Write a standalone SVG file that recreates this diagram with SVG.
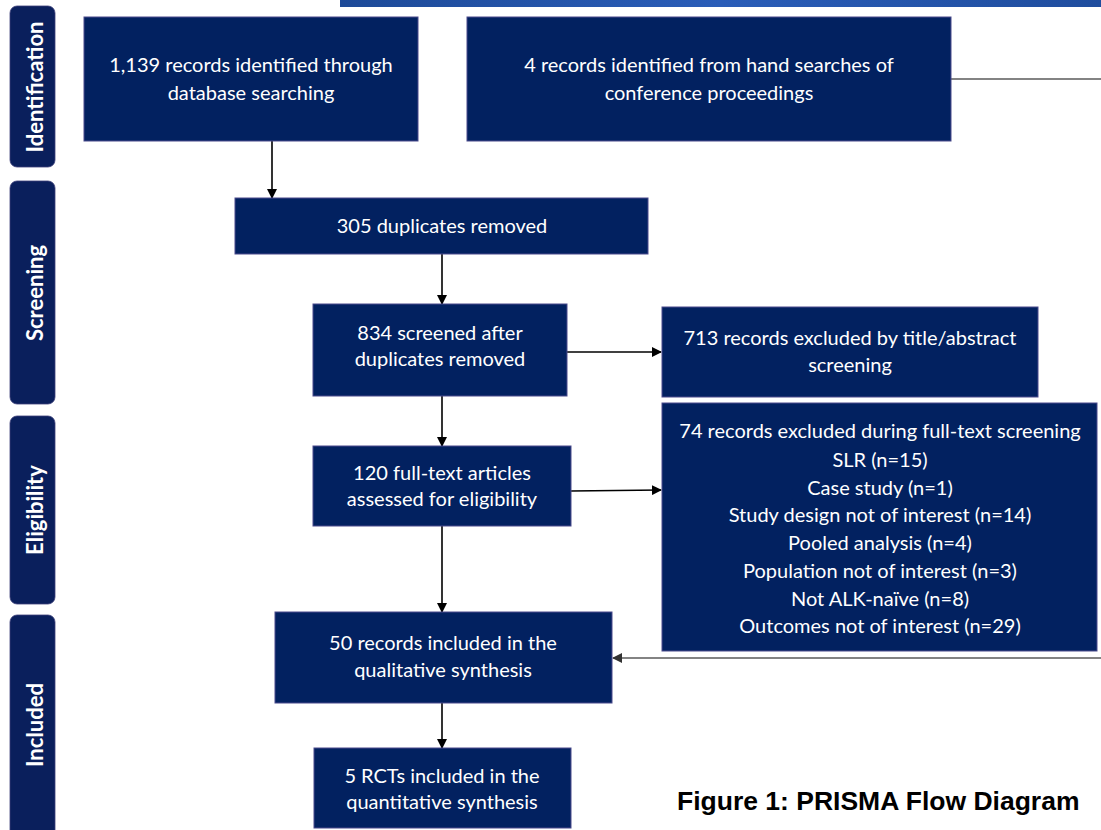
<svg xmlns="http://www.w3.org/2000/svg" width="1101" height="830" viewBox="0 0 1101 830">
<style>
.box{fill:#022160;stroke:#4a4a8c;stroke-width:1}
.phase{fill:#0a1f5c;stroke:#3c3f7a;stroke-width:0.8}
.t{font-family:Lato,"Open Sans","DejaVu Sans",sans-serif;font-size:20px;fill:#ffffff;text-anchor:middle}
.p{font-family:Lato,"Open Sans","DejaVu Sans",sans-serif;font-size:22px;font-weight:bold;fill:#ffffff;text-anchor:middle}
.c{stroke:#000;stroke-width:1.6;fill:none}
.g{stroke:#5a5a5a;stroke-width:1.6;fill:none}
.cap{font-family:"Liberation Sans",Arial,sans-serif;font-size:26.5px;font-weight:bold;fill:#000}
</style>
<defs>
<marker id="ah" markerWidth="10" markerHeight="10" refX="9" refY="5" orient="auto" markerUnits="userSpaceOnUse"><path d="M0,0 L10,5 L0,10 Z" fill="#000"/></marker>
<marker id="ahg" markerWidth="10" markerHeight="10" refX="9" refY="5" orient="auto" markerUnits="userSpaceOnUse"><path d="M0,0 L10,5 L0,10 Z" fill="#333"/></marker>
<linearGradient id="ban" x1="0" y1="0" x2="1" y2="0"><stop offset="0" stop-color="#1d4a98"/><stop offset="0.5" stop-color="#2a5db8"/><stop offset="1" stop-color="#1f4d9e"/></linearGradient>
</defs>
<rect width="1101" height="830" fill="#ffffff"/>
<rect x="340" y="0" width="761" height="7" fill="url(#ban)"/>

<g id="phase-identification"><rect class="phase" x="10" y="6" width="45" height="161" rx="7"/><text class="p" transform="translate(43,87) rotate(-90)">Identification</text></g>
<g id="phase-screening"><rect class="phase" x="10" y="181" width="45" height="223" rx="7"/><text class="p" transform="translate(43,293) rotate(-90)">Screening</text></g>
<g id="phase-eligibility"><rect class="phase" x="10" y="416" width="45" height="188" rx="7"/><text class="p" transform="translate(43,510) rotate(-90)">Eligibility</text></g>
<g id="phase-included"><rect class="phase" x="10" y="615" width="45" height="230" rx="7"/><text class="p" transform="translate(43,725) rotate(-90)">Included</text></g>

<g id="connectors">
<line class="c" x1="272" y1="141" x2="272" y2="198" marker-end="url(#ah)"/>
<line class="c" x1="442" y1="254" x2="442" y2="304" marker-end="url(#ah)"/>
<line class="c" x1="442" y1="396" x2="442" y2="446" marker-end="url(#ah)"/>
<line class="c" x1="442" y1="526" x2="442" y2="612" marker-end="url(#ah)"/>
<line class="c" x1="442" y1="703" x2="442" y2="748" marker-end="url(#ah)"/>
<line class="c" x1="567" y1="352" x2="661" y2="352" marker-end="url(#ah)"/>
<line class="c" x1="571" y1="491" x2="661" y2="490" marker-end="url(#ah)"/>
<line class="g" x1="951" y1="79" x2="1101" y2="79"/>
<line class="g" x1="1101" y1="658" x2="613" y2="658" marker-end="url(#ahg)"/>
</g>

<g id="n1"><rect class="box" x="84" y="17" width="334" height="124"/><text class="t" x="251" y="72">1,139 records identified through</text><text class="t" x="251" y="100">database searching</text></g>
<g id="n2"><rect class="box" x="467" y="17" width="484" height="124"/><text class="t" x="709" y="72">4 records identified from hand searches of</text><text class="t" x="709" y="100">conference proceedings</text></g>
<g id="n3"><rect class="box" x="235" y="198" width="413" height="56"/><text class="t" x="442" y="233">305 duplicates removed</text></g>
<g id="n4"><rect class="box" x="313" y="304" width="254" height="92"/><text class="t" x="440" y="340">834 screened after</text><text class="t" x="440" y="366">duplicates removed</text></g>
<g id="n5"><rect class="box" x="313" y="446" width="258" height="80"/><text class="t" x="442" y="480">120 full-text articles</text><text class="t" x="442" y="506">assessed for eligibility</text></g>
<g id="n6"><rect class="box" x="662" y="307" width="376" height="90"/><text class="t" x="850" y="345">713 records excluded by title/abstract</text><text class="t" x="850" y="372">screening</text></g>
<g id="n7"><rect class="box" x="662" y="403" width="435" height="248"/>
<text class="t" x="880" y="438">74 records excluded during full-text screening</text>
<text class="t" x="880" y="467">SLR (n=15)</text>
<text class="t" x="880" y="495">Case study (n=1)</text>
<text class="t" x="880" y="522">Study design not of interest (n=14)</text>
<text class="t" x="880" y="550">Pooled analysis (n=4)</text>
<text class="t" x="880" y="578">Population not of interest (n=3)</text>
<text class="t" x="880" y="606">Not ALK-naïve (n=8)</text>
<text class="t" x="880" y="633">Outcomes not of interest (n=29)</text></g>
<g id="n8"><rect class="box" x="275" y="612" width="337" height="91"/><text class="t" x="443" y="650">50 records included in the</text><text class="t" x="443" y="677">qualitative synthesis</text></g>
<g id="n9"><rect class="box" x="314" y="748" width="257" height="80"/><text class="t" x="442" y="783">5 RCTs included in the</text><text class="t" x="442" y="809">quantitative synthesis</text></g>

<text class="cap" x="677" y="810">Figure 1: PRISMA Flow Diagram</text>
</svg>
